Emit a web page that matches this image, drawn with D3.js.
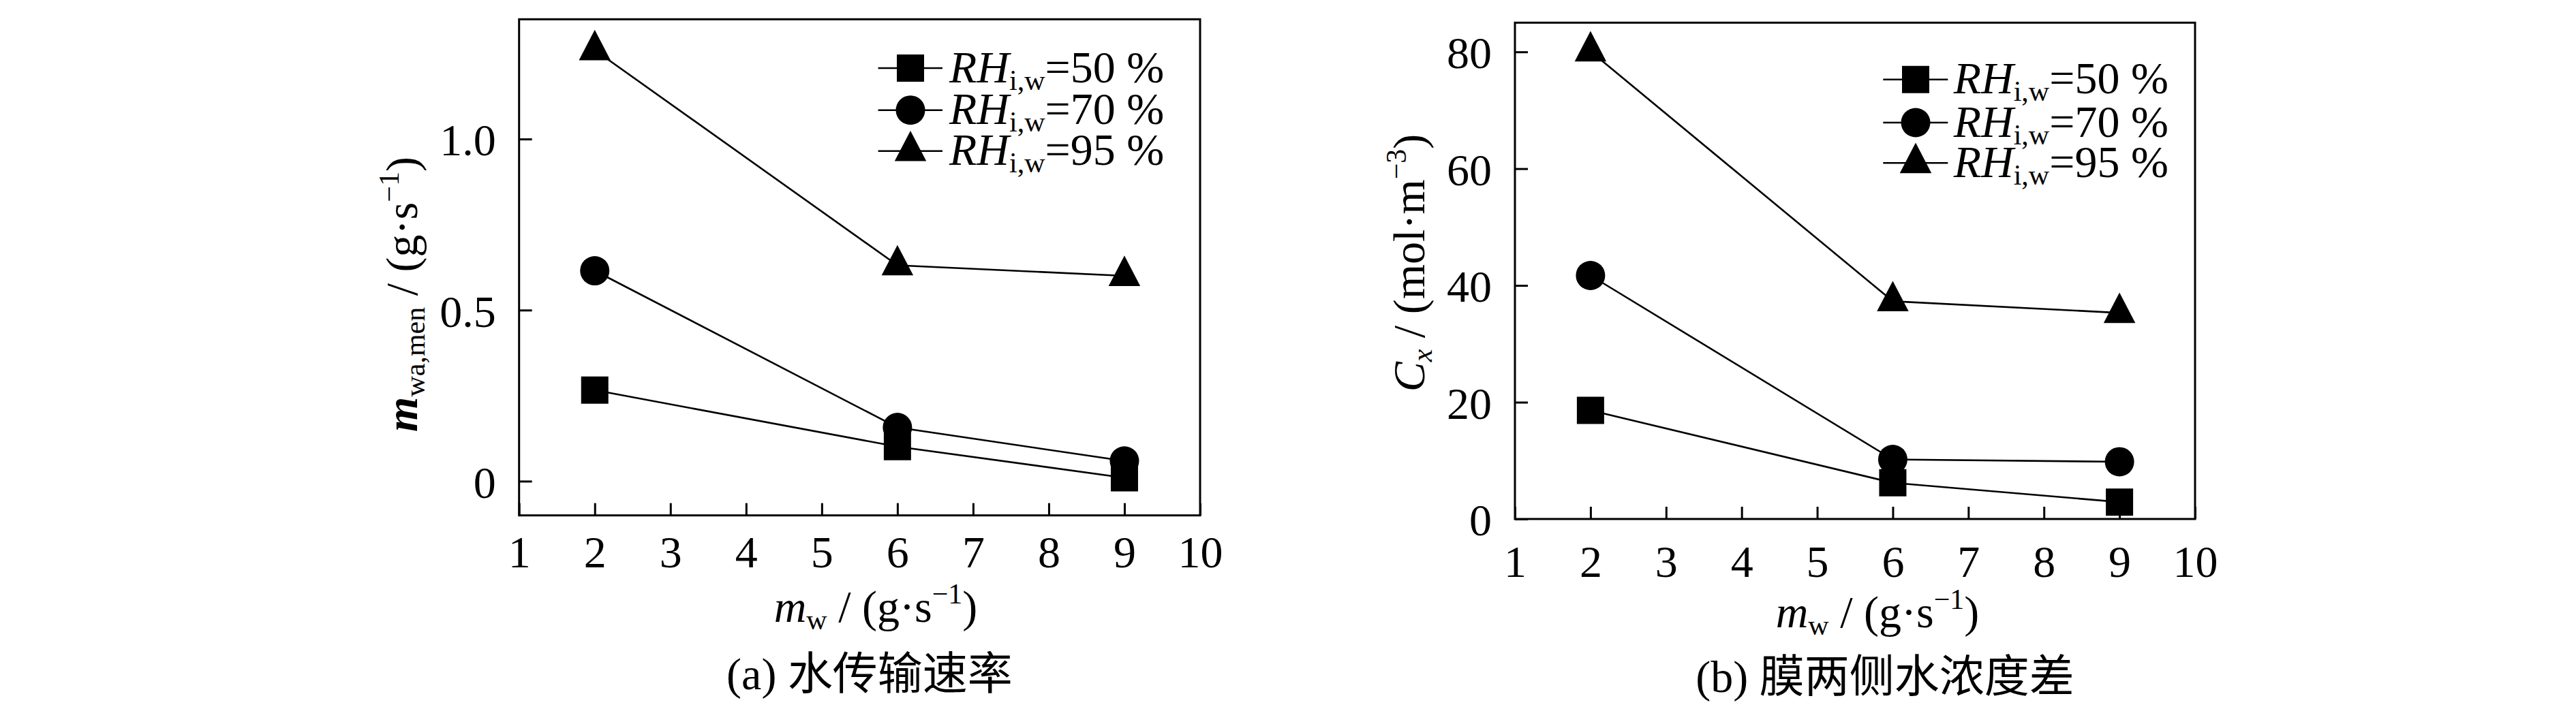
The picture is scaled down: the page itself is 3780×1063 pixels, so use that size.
<!DOCTYPE html>
<html>
<head>
<meta charset="utf-8">
<script src="https://cdn.jsdelivr.net/npm/d3@7"></script>
<style>
    html, body { margin: 0; padding: 0; background: #fff; }
    svg { display: block; }
</style>
</head>
<body>
<svg id="chart" width="3780" height="1063"></svg>
<script>
(function () {
    'use strict';

    // ---- data ----
    var flowRates = [2, 6, 9];                       // m_w (g/s)
    var rhLabels = ['=50 %', '=70 %', '=95 %'];
    var markerTypes = ['square', 'circle', 'triangle'];

    // (a) water transfer rate m_wa,men (g/s)
    var transferRh50 = [0.266, 0.101, 0.010];
    var transferRh70 = [0.615, 0.157, 0.059];
    var transferRh95 = [1.26, 0.631, 0.600];

    // (b) water concentration difference C_x (mol/m3)
    var concRh50 = [18.6, 6.2, 2.9];
    var concRh70 = [41.7, 10.2, 9.8];
    var concRh95 = [80.1, 37.3, 35.3];

    var xTickValues = [1, 2, 3, 4, 5, 6, 7, 8, 9, 10];
    var yTicksA = [0, 0.5, 1.0];
    var yTicksB = [0, 20, 40, 60, 80];

    var FONT = 66;
    var SMALL = 42;
    var LATIN = "Liberation Serif, Tinos, Times New Roman, Times, DejaVu Serif, Noto Serif, serif";
    var CJK = "Noto Sans CJK SC, Noto Sans CJK JP, sans-serif";

    // custom filled triangle, a bit taller than equilateral, centred on its centroid
    var tallTriangle = {
        draw: function (ctx, size) {
            var w = Math.sqrt(size);
            var h = w * 0.96;
            ctx.moveTo(0, -h * 2 / 3);
            ctx.lineTo(w / 2, h / 3);
            ctx.lineTo(-w / 2, h / 3);
            ctx.closePath();
        }
    };

    function markerPath(type) {
        if (type === 'square') return d3.symbol().type(d3.symbolSquare).size(40 * 40)();
        if (type === 'circle') return d3.symbol().type(d3.symbolCircle).size(Math.PI * 21.5 * 21.5)();
        return d3.symbol().type(tallTriangle).size(46.5 * 46.5)();
    }

    function serifText(sel) {
        return sel.attr('font-family', LATIN)
            .attr('fill', '#000')
            .attr('font-size', FONT);
    }

    // rich text: parts = [[text, style, pos]]  style: n|i|bi  pos: base|sub|sup
    function richText(textSel, parts) {
        var cur = 0;
        parts.forEach(function (p) {
            var shift = p[2] === 'sub' ? 11 : (p[2] === 'sup' ? -27 : 0);
            var ts = textSel.append('tspan')
                .attr('dy', shift - cur)
                .attr('font-size', p[2] === 'base' ? FONT : SMALL)
                .text(p[0]);
            if (p[1] === 'i' || p[1] === 'bi') ts.attr('font-style', 'italic');
            if (p[1] === 'bi') ts.attr('font-weight', 'bold');
            cur = shift;
        });
    }

    var panels = [
        {
            x0: 761.7, x1: 1761, y0: 28.3, y1: 756.7,
            yDomain: [-0.1, 1.35], yTicks: yTicksA,
            yFormat: function (d) { return d === 0 ? '0' : d3.format('.1f')(d); },
            series: [transferRh50, transferRh70, transferRh95],
            xPad: 29,
            legend: { lineX0: 1288.6, lineX1: 1383, markX: 1336, textX: 1393, rowY: [100, 161.7, 221.7] },
            yLabel: { x: 612, y: 432, parts: [['m', 'bi', 'base'], ['wa,men', 'n', 'sub'], [' / (g\u00b7s', 'n', 'base'], ['\u22121', 'n', 'sup'], [')', 'n', 'base']] },
            xLabel: { x: 1285, y: 913 },
            caption: { x: 1276, y: 1012, tag: '(a) ', text: '水传输速率' }
        },
        {
            x0: 2223, x1: 3221, y0: 33.3, y1: 762,
            yDomain: [0, 85], yTicks: yTicksB,
            yFormat: d3.format('d'),
            series: [concRh50, concRh70, concRh95],
            xPad: 38,
            legend: { lineX0: 2763.3, lineX1: 2858.3, markX: 2811, textX: 2866.7, rowY: [116.7, 180, 239.3] },
            yLabel: { x: 2090, y: 386, parts: [['C', 'i', 'base'], ['x', 'i', 'sub'], [' / (mol\u00b7m', 'n', 'base'], ['\u22123', 'n', 'sup'], [')', 'n', 'base']] },
            xLabel: { x: 2755, y: 921 },
            caption: { x: 2766, y: 1016, tag: '(b) ', text: '膜两侧水浓度差' }
        }
    ];

    var svg = d3.select('#chart');
    svg.append('rect').attr('width', 3780).attr('height', 1063).attr('fill', '#fff');

    panels.forEach(function (p) {
        var g = svg.append('g');

        var x = d3.scaleLinear().domain([1, 10]).range([p.x0, p.x1]);
        var y = d3.scaleLinear().domain(p.yDomain).range([p.y1, p.y0]);

        // x axis, ticks pointing inward
        var xAxis = g.append('g')
            .attr('transform', 'translate(0,' + p.y1 + ')')
            .call(d3.axisBottom(x).tickValues(xTickValues).tickFormat(d3.format('d'))
                .tickSizeInner(-18).tickSizeOuter(0).tickPadding(p.xPad));
        xAxis.select('.domain').remove();

        var yAxis = g.append('g')
            .attr('transform', 'translate(' + p.x0 + ',0)')
            .call(d3.axisLeft(y).tickValues(p.yTicks).tickFormat(p.yFormat)
                .tickSizeInner(-19).tickSizeOuter(0).tickPadding(34));
        yAxis.select('.domain').remove();

        [xAxis, yAxis].forEach(function (ax) {
            ax.attr('font-family', LATIN).attr('font-size', FONT);
            ax.selectAll('.tick line').attr('stroke', '#000').attr('stroke-width', 3);
            serifText(ax.selectAll('.tick text'));
        });
        yAxis.selectAll('.tick text').attr('dy', '0.36em');

        // frame
        g.append('rect')
            .attr('x', p.x0).attr('y', p.y0)
            .attr('width', p.x1 - p.x0).attr('height', p.y1 - p.y0)
            .attr('fill', 'none').attr('stroke', '#000').attr('stroke-width', 3);

        var line = d3.line()
            .x(function (d, i) { return x(flowRates[i]); })
            .y(function (d) { return y(d); });

        p.series.forEach(function (vals, si) {
            g.append('path')
                .datum(vals)
                .attr('d', line)
                .attr('fill', 'none')
                .attr('stroke', '#000')
                .attr('stroke-width', 2.6);

            g.selectAll('.pt' + si)
                .data(vals)
                .enter()
                .append('path')
                .attr('d', markerPath(markerTypes[si]))
                .attr('transform', function (d, i) {
                    return 'translate(' + x(flowRates[i]) + ',' + y(d) + ')';
                })
                .attr('fill', '#000');
        });

        // legend
        var lg = p.legend;
        rhLabels.forEach(function (lab, i) {
            var ry = lg.rowY[i];
            g.append('line')
                .attr('x1', lg.lineX0).attr('x2', lg.lineX1)
                .attr('y1', ry).attr('y2', ry)
                .attr('stroke', '#000').attr('stroke-width', 2.6);
            g.append('path')
                .attr('d', markerPath(markerTypes[i]))
                .attr('transform', 'translate(' + lg.markX + ',' + ry + ')')
                .attr('fill', '#000');
            var t = serifText(g.append('text'))
                .attr('x', lg.textX)
                .attr('y', ry + 20.6);
            richText(t, [['RH', 'i', 'base'], ['i,w', 'n', 'sub'], [lab, 'n', 'base']]);
        });

        // axis titles
        var yl = serifText(g.append('text'))
            .attr('text-anchor', 'middle')
            .attr('transform', 'translate(' + p.yLabel.x + ',' + p.yLabel.y + ') rotate(-90)');
        richText(yl, p.yLabel.parts);

        var xl = serifText(g.append('text'))
            .attr('text-anchor', 'middle')
            .attr('x', p.xLabel.x)
            .attr('y', p.xLabel.y);
        richText(xl, [['m', 'i', 'base'], ['w', 'n', 'sub'], [' / (g\u00b7s', 'n', 'base'], ['\u22121', 'n', 'sup'], [')', 'n', 'base']]);

        // caption: latin tag + CJK title
        var cap = serifText(g.append('text'))
            .attr('text-anchor', 'middle')
            .attr('x', p.caption.x)
            .attr('y', p.caption.y);
        cap.append('tspan').text(p.caption.tag);
        cap.append('tspan').attr('font-family', CJK).text(p.caption.text);
    });
})();
</script>
</body>
</html>
